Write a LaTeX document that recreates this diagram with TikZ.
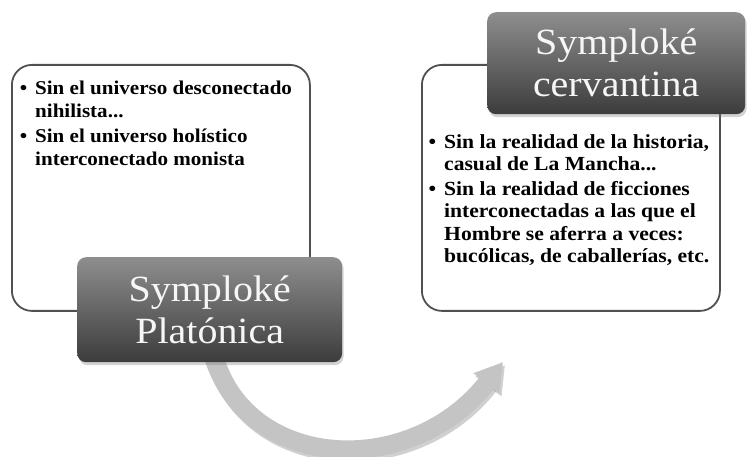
\documentclass[tikz,border=0pt]{standalone}
\usepackage{fontspec}
\setmainfont[FakeStretch=1.08]{Liberation Serif}
\usetikzlibrary{arrows.meta,shadows,backgrounds}
\definecolor{edgegray}{RGB}{80,80,80}
\definecolor{darktop}{RGB}{142,142,142}
\definecolor{darkbot}{RGB}{60,60,60}
\definecolor{arrowgray}{RGB}{196,196,196}
\definecolor{arrowshadow}{RGB}{150,150,150}
\definecolor{titlewhite}{RGB}{246,246,246}
\tikzset{
  panel/.style={draw=edgegray, line width=1.8pt, rounded corners=20pt, fill=white,
    anchor=north west, inner sep=0pt},
  titlebox/.style={rounded corners=9pt, top color=darktop, bottom color=darkbot,
    anchor=north west, inner sep=0pt, text=titlewhite, align=center,
    font=\fontsize{37}{42}\selectfont,
    drop shadow={opacity=0.35, shadow xshift=1.5pt, shadow yshift=-3pt}},
  bullets/.style={anchor=base west, align=left, inner sep=0pt, text=black},
  bigarrow/.style={draw=arrowgray, line width=18.5pt, -{Triangle[length=27pt,width=31pt]}},
  arrowshade/.style={draw=arrowshadow, opacity=0.45, line width=18.5pt,
    -{Triangle[length=27pt,width=31pt]}}
}
\newcommand{\bul}{\llap{\textbullet\hspace{8pt}}}
\begin{document}
\begin{tikzpicture}[x=1pt,y=-1pt]
\useasboundingbox (0,0) rectangle (748,457);
% white panels
\node[panel, minimum width=298pt, minimum height=246pt] (leftpanel) at (11,64) {};
\node[panel, minimum width=298pt, minimum height=246pt] (rightpanel) at (421,64) {};
% bullet texts (anchored at the baseline of their last line)
\node[bullets, font=\fontsize{19.5}{23}\selectfont\bfseries] (lefttext) at (35,166)
  {\bul Sin el universo desconectado\\ nihilista...\\[2pt]
   \bul Sin el universo holístico\\ interconectado monista};
\node[bullets, font=\fontsize{20}{22.3}\selectfont\bfseries] (righttext) at (444,262.5)
  {\bul Sin la realidad de la historia,\\ casual de La Mancha...\\[3pt]
   \bul Sin la realidad de ficciones\\ interconectadas a las que el\\
   Hombre se aferra a veces:\\ bucólicas, de caballerías, etc.};
% dark title boxes
\node[titlebox, minimum width=265pt, minimum height=105pt] (leftdark) at (77,257)
  {Symploké\\Platónica};
\node[titlebox, minimum width=258pt, minimum height=102pt] (rightdark) at (487,12)
  {Symploké\\cervantina};
% curved arrow
\coordinate (tip) at (503,362);
\begin{pgfonlayer}{background}
  \draw[arrowshade, transform canvas={shift={(2pt,-3pt)}}]
    ([xshift=3.5pt,yshift=6pt]leftdark.south) .. controls (250,474) and (413,478) .. (tip);
  \draw[bigarrow]
    ([xshift=3.5pt,yshift=6pt]leftdark.south) .. controls (250,474) and (413,478) .. (tip);
\end{pgfonlayer}
\end{tikzpicture}
\end{document}
